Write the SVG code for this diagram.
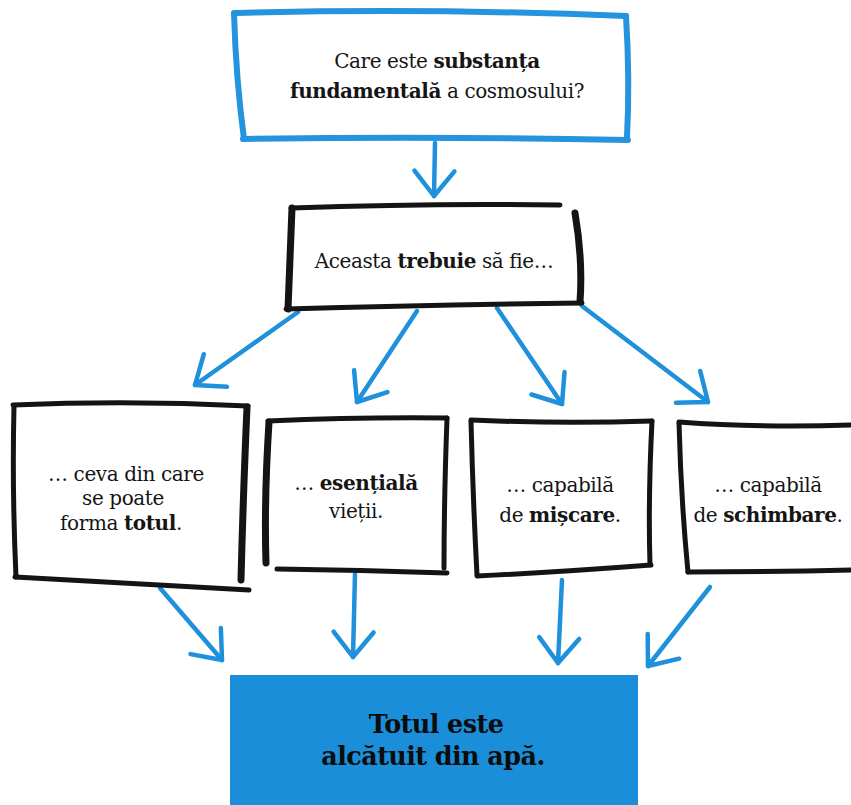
<svg xmlns="http://www.w3.org/2000/svg" width="851" height="805" viewBox="0 0 851 805">
<defs>
<style>
.bg{fill:#ffffff}
.blue{fill:none;stroke:#2394dd;stroke-width:6;stroke-linecap:round;stroke-linejoin:round}
.ink{fill:none;stroke:#141414;stroke-width:5;stroke-linecap:round;stroke-linejoin:round}
.ink-thick{fill:none;stroke:#141414;stroke-width:7;stroke-linecap:round;stroke-linejoin:round}
.conn{fill:none;stroke:#1e90dc;stroke-width:4.5;stroke-linecap:round;marker-end:url(#chev)}
.t{font-family:"DejaVu Serif","Liberation Serif",serif;font-size:20px;letter-spacing:-0.4px;fill:#151515;text-anchor:middle}
.b{font-weight:bold}
.big{font-family:"DejaVu Serif","Liberation Serif",serif;font-size:25.5px;letter-spacing:-0.6px;font-weight:bold;fill:#0d0d0d;text-anchor:middle}
.fill-blue{fill:#1b8ed9}
</style>
<marker id="chev" markerUnits="userSpaceOnUse" viewBox="-32 -26 38 52" refX="0" refY="0" markerWidth="38" markerHeight="52" orient="auto">
<path d="M-25,-20 L0,0 L-25,20" fill="none" stroke="#1e90dc" stroke-width="4.5" stroke-linecap="round" stroke-linejoin="round"/>
</marker>
</defs>
<rect class="bg" x="0" y="0" width="851" height="805"/>

<g id="connectors">
<path class="conn" d="M435,143 L434,196"/>
<path class="conn" d="M298,312 L195,385"/>
<path class="conn" d="M417,311 L357,402"/>
<path class="conn" d="M497,308 L562,404"/>
<path class="conn" d="M582,306 L708,402"/>
<path class="conn" d="M160,588 L222,660"/>
<path class="conn" d="M355,574 L353,657"/>
<path class="conn" d="M562,580 L558,663"/>
<path class="conn" d="M710,587 L648,666"/>
</g>

<g id="question">
<path class="blue" d="M236,13 Q430,8 626,16"/>
<path class="blue" d="M626,16 Q630,80 627,137"/>
<path class="blue" d="M243,139 Q430,136 628,140"/>
<path class="blue" d="M234,13 Q236,80 244,139"/>
<text class="t" x="437" y="68">Care este <tspan class="b">substanța</tspan></text>
<text class="t" x="437" y="98"><tspan class="b">fundamentală</tspan> a cosmosului?</text>
</g>

<g id="must-be">
<path class="ink" d="M291,208 Q430,203 560,205"/>
<path class="ink-thick" d="M575,213 Q583,260 580,302"/>
<path class="ink" d="M286,309 Q430,305 582,303"/>
<path class="ink-thick" d="M292,208 L288,309"/>
<text class="t" x="434" y="268">Aceasta <tspan class="b">trebuie</tspan> să fie…</text>
</g>

<g id="all-forms">
<path class="ink" d="M13,405 Q130,400 248,406"/>
<path class="ink-thick" d="M247,407 Q243,500 241,580"/>
<path class="ink" d="M15,577 Q130,583 249,590"/>
<path class="ink" d="M14,406 Q12,490 16,577"/>
<text class="t" x="126" y="481">… ceva din care</text>
<text class="t" x="123" y="505">se poate</text>
<text class="t" x="121" y="530">forma <tspan class="b">totul</tspan>.</text>
</g>

<g id="essential">
<path class="ink" d="M268,421 Q360,417 447,418"/>
<path class="ink" d="M447,418 Q444,500 444,568"/>
<path class="ink" d="M277,569 Q360,570 447,573"/>
<path class="ink-thick" d="M269,422 Q264,500 266,563"/>
<text class="t" x="356" y="490">… <tspan class="b">esențială</tspan></text>
<text class="t" x="356" y="518">vieții.</text>
</g>

<g id="motion">
<path class="ink" d="M471,420 Q560,424 652,421"/>
<path class="ink" d="M652,421 Q648,500 650,565"/>
<path class="ink" d="M477,576 Q560,572 651,565"/>
<path class="ink" d="M471,421 Q473,500 477,575"/>
<text class="t" x="560" y="492">… capabilă</text>
<text class="t" x="560" y="522">de <tspan class="b">mișcare</tspan>.</text>
</g>

<g id="change">
<path class="ink" d="M679,422 Q760,428 851,425"/>
<path class="ink" d="M679,423 Q681,500 688,572"/>
<path class="ink" d="M688,572 Q770,572 851,570"/>
<text class="t" x="768" y="492">… capabilă</text>
<text class="t" x="768" y="522">de <tspan class="b">schimbare</tspan>.</text>
</g>

<g id="answer">
<rect class="fill-blue" x="230" y="675" width="408" height="130"/>
<text class="big" x="436" y="733">Totul este</text>
<text class="big" x="433" y="765">alcătuit din apă.</text>
</g>
</svg>
